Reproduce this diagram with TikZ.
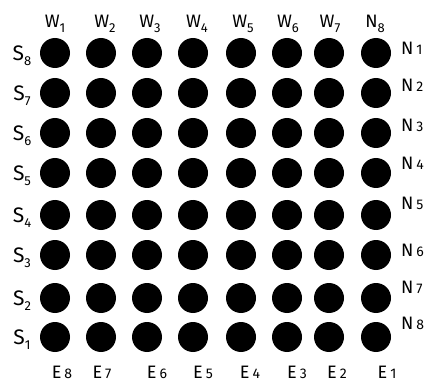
\documentclass[tikz,border=0pt]{standalone}
\usepackage{fontspec}
\setmainfont{Fira Sans}
\begin{document}
\begin{tikzpicture}[x=1pt,y=-1pt,
  dot/.style={circle,fill=black,minimum size=30pt,inner sep=0pt},
  lab/.style={font=\fontsize{18}{20}\selectfont,inner sep=0pt},
  slab/.style={font=\fontsize{21}{23}\selectfont,inner sep=0pt}]
\newcommand{\dig}[1]{{\fontsize{14}{15}\selectfont #1}}
\newcommand{\sbs}[1]{\raisebox{-0.25em}{\fontsize{13}{14}\selectfont #1}}
\useasboundingbox (0,0) rectangle (442,385);
% dots
\foreach \c [count=\i] in {55,101,147,193,241,287,329,376}{
  \foreach \r [count=\j] in {53,93,133,173,215,255,298,337}{
    \node[dot] (d\j-\i) at (\c,\r) {};
  }
}
% top labels
\foreach \x/\t/\n [count=\i] in {55/W/1,105/W/2,150/W/3,197/W/4,243/W/5,288/W/6,330/W/7,375/N/8}{
  \node[lab] (w\i) at (\x,24) {\t\sbs{\n}};
}
% left labels
\foreach \y/\n [count=\i] in {56/8,96/7,136/6,176/5,218/4,258/3,301/2,340/1}{
  \node[slab] (s\i) at (22,\y) {S\sbs{\n}};
}
% right labels
\foreach \y/\n [count=\i] in {48/1,85/2,125/3,163/4,203/5,250/6,287/7,323/8}{
  \node[lab,anchor=west] (n\i) at (401,\y) {N\,\dig{\n}};
}
% bottom labels
\foreach \x/\n [count=\i] in {62/8,102/7,157/6,203/5,250/4,297/3,337/2,387/1}{
  \node[lab] (e\i) at (\x,372) {E\,\dig{\n}};
}
\end{tikzpicture}
\end{document}
